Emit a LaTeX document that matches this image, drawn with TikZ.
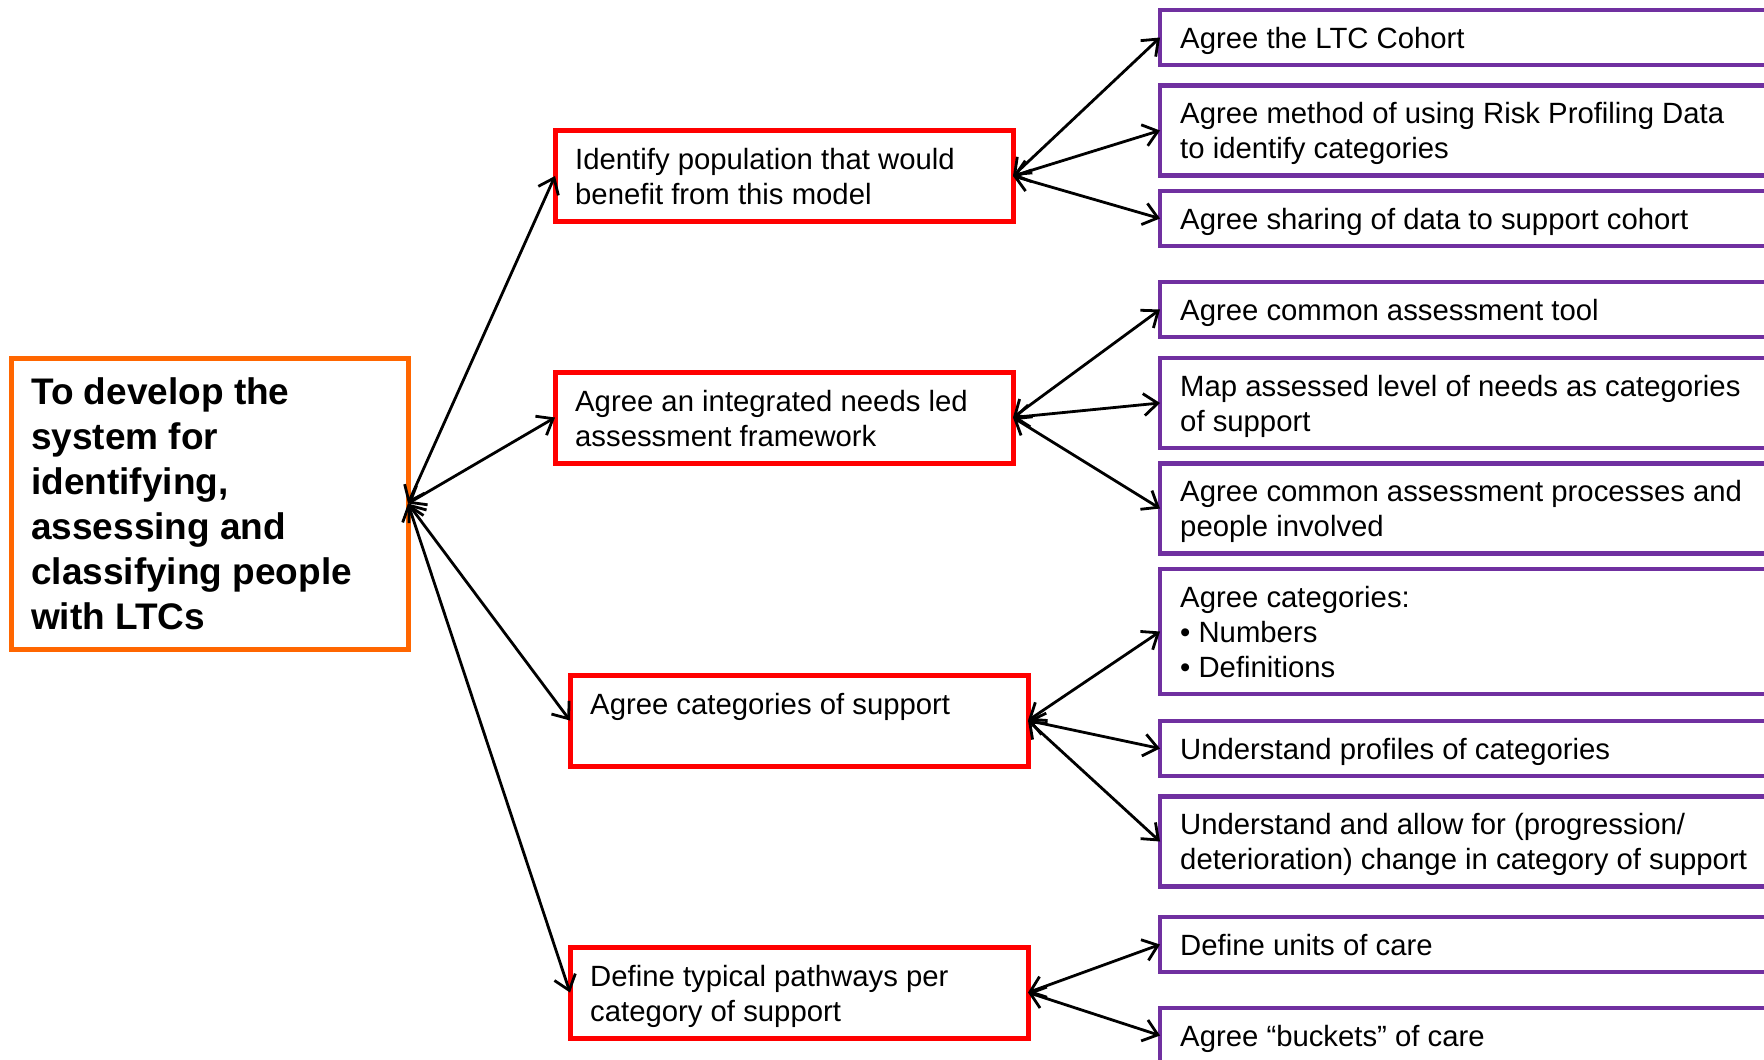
\documentclass[tikz,border=0pt]{standalone}
\usepackage{fontspec}
\setmainfont{Liberation Sans}
\usetikzlibrary{arrows.meta,calc}

\definecolor{goalorange}{RGB}{255,102,0}
\definecolor{stagered}{RGB}{255,0,0}
\definecolor{taskpurple}{RGB}{112,48,160}

\tikzset{
  frame/.style={draw, rectangle, inner sep=0pt, outer sep=0pt, anchor=north west},
  goalbox/.style={frame, draw=goalorange, line width=5pt},
  stagebox/.style={frame, draw=stagered, line width=5pt, minimum width=458pt, minimum height=91pt},
  taskbox/.style={frame, draw=taskpurple, line width=4.5pt, minimum width=640pt},
  % text blocks hang from the top of their first line (a strut fixes its height)
  boxtext/.style={anchor=north west, inner sep=0pt, align=left, font=\fontsize{29.3}{35}\selectfont},
  goaltext/.style={anchor=north west, inner sep=0pt, align=left, font=\fontsize{37}{45}\selectfont\bfseries},
  link/.style={draw=black, line width=2.8pt,
    {Straight Barb[length=14pt,width=22pt]}-{Straight Barb[length=14pt,width=22pt]}},
}

\begin{document}
\begin{tikzpicture}[x=1pt, y=-1pt]
\useasboundingbox (0,0) rectangle (1764,1060);
\fill[white] (0,0) rectangle (1764,1060);
\clip (0,0) rectangle (1764,1060);

% overall goal
\node[goalbox, minimum width=397pt, minimum height=291pt] (goal) at (11,358) {};
\node[goaltext] (goal-t) at ($(goal.north west)+(20,14.5)$)
  {\strut To develop the\\system for\\identifying,\\assessing and\\classifying people\\with LTCs};

% second level: stages
\node[stagebox] (r1) at (555,130.5) {};
\node[boxtext] (r1-t) at ($(r1.north west)+(20,14.5)$) {\strut Identify population that would\\benefit from this model};
\node[stagebox] (r2) at (555,372) {};
\node[boxtext] (r2-t) at ($(r2.north west)+(20,14.5)$) {\strut Agree an integrated needs led\\assessment framework};
\node[stagebox] (r3) at (570,675) {};
\node[boxtext] (r3-t) at ($(r3.north west)+(20,14.5)$) {\strut Agree categories of support};
\node[stagebox] (r4) at (570,947) {};
\node[boxtext] (r4-t) at ($(r4.north west)+(20,14.5)$) {\strut Define typical pathways per\\category of support};

% third level: tasks
\node[taskbox, minimum height=55pt] (p1) at (1160,10) {};
\node[boxtext] (p1-t) at ($(p1.north west)+(20,13.5)$) {\strut Agree the LTC Cohort};
\node[taskbox, minimum height=90pt] (p2) at (1160,85.5) {};
\node[boxtext] (p2-t) at ($(p2.north west)+(20,13.5)$) {\strut Agree method of using Risk Profiling Data\\to identify categories};
\node[taskbox, minimum height=55pt] (p3) at (1160,191) {};
\node[boxtext] (p3-t) at ($(p3.north west)+(20,13.5)$) {\strut Agree sharing of data to support cohort};

\node[taskbox, minimum height=55pt] (p4) at (1160,282) {};
\node[boxtext] (p4-t) at ($(p4.north west)+(20,13.5)$) {\strut Agree common assessment tool};
\node[taskbox, minimum height=90pt] (p5) at (1160,358) {};
\node[boxtext] (p5-t) at ($(p5.north west)+(20,13.5)$) {\strut Map assessed level of needs as categories\\of support};
\node[taskbox, minimum height=90pt] (p6) at (1160,463.5) {};
\node[boxtext] (p6-t) at ($(p6.north west)+(20,13.5)$) {\strut Agree common assessment processes and\\people involved};

\node[taskbox, minimum height=125pt] (p7) at (1160,569) {};
\node[boxtext] (p7-t) at ($(p7.north west)+(20,13.5)$) {\strut Agree categories:\\• Numbers\\• Definitions};
\node[taskbox, minimum height=55pt] (p8) at (1160,721) {};
\node[boxtext] (p8-t) at ($(p8.north west)+(20,13.5)$) {\strut Understand profiles of categories};
\node[taskbox, minimum height=90pt] (p9) at (1160,796.5) {};
\node[boxtext] (p9-t) at ($(p9.north west)+(20,13.5)$) {\strut Understand and allow for (progression/\\deterioration) change in category of support};

\node[taskbox, minimum height=55pt] (p10) at (1160,917) {};
\node[boxtext] (p10-t) at ($(p10.north west)+(20,13.5)$) {\strut Define units of care};
\node[taskbox, minimum height=55pt] (p11) at (1160,1008) {};
\node[boxtext] (p11-t) at ($(p11.north west)+(20,13.5)$) {\strut Agree “buckets” of care};

% connectors
\foreach \s in {r1,r2,r3,r4} \draw[link] (goal.east) -- (\s.west);
\foreach \t in {p1,p2,p3} \draw[link] (r1.east) -- (\t.west);
\foreach \t in {p4,p5,p6} \draw[link] (r2.east) -- (\t.west);
\foreach \t in {p7,p8,p9} \draw[link] (r3.east) -- (\t.west);
\foreach \t in {p10,p11} \draw[link] (r4.east) -- (\t.west);
\end{tikzpicture}
\end{document}
